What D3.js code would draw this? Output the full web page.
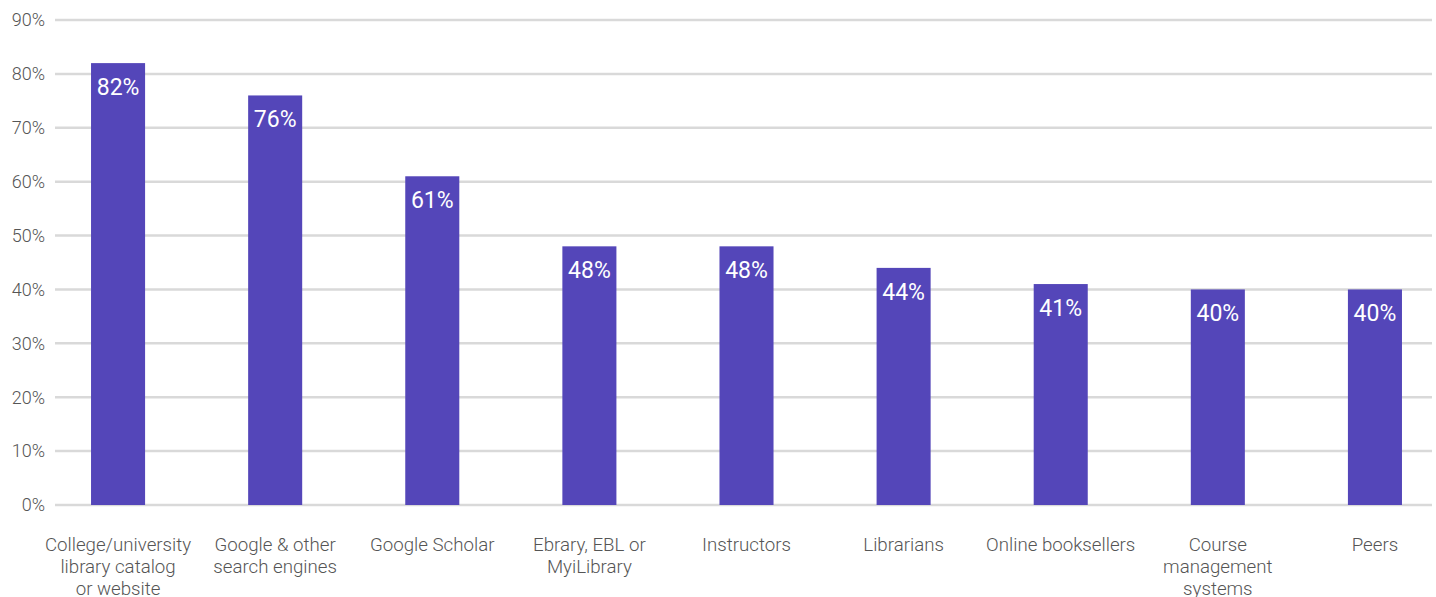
<!DOCTYPE html>
<html>
<head>
<meta charset="utf-8">
<script src="https://cdn.jsdelivr.net/npm/d3@7"></script>
<style>
  html, body { margin: 0; padding: 0; background: #fff; }
  svg { display: block; }
</style>
</head>
<body>
<svg id="chart" width="1436" height="597"></svg>
<script>
// Sources used to find e-books (share of respondents)
const categories = [
  ["College/university", "library catalog", "or website"],
  ["Google & other", "search engines"],
  ["Google Scholar"],
  ["Ebrary, EBL or", "MyiLibrary"],
  ["Instructors"],
  ["Librarians"],
  ["Online booksellers"],
  ["Course", "management", "systems"],
  ["Peers"]
];
const values = [82, 76, 61, 48, 48, 44, 41, 40, 40];
const yTicks = [0, 10, 20, 30, 40, 50, 60, 70, 80, 90];

const svg = d3.select("#chart");
const font = "Roboto, 'Noto Sans', sans-serif";

const x = d3.scaleBand()
  .domain(d3.range(values.length))
  .range([39.5, 1453.5])
  .paddingInner(0.656)
  .paddingOuter(0.328);

const y = d3.scaleLinear().domain([0, 90]).range([505, 20]);

// horizontal gridlines
svg.append("g").selectAll("line")
  .data(yTicks)
  .join("line")
  .attr("x1", 55).attr("x2", 1432)
  .attr("y1", d => y(d)).attr("y2", d => y(d))
  .attr("stroke", "#d9d9d9")
  .attr("stroke-width", 2.5);

// y tick labels
svg.append("g").selectAll("text")
  .data(yTicks)
  .join("text")
  .attr("x", 45)
  .attr("y", d => y(d))
  .attr("dy", "0.35em")
  .attr("text-anchor", "end")
  .attr("font-family", font)
  .attr("font-weight", 300)
  .attr("font-size", 18)
  .attr("fill", "#555")
  .text(d => d + "%");

// bars
svg.append("g").selectAll("rect")
  .data(values)
  .join("rect")
  .attr("x", (d, i) => x(i))
  .attr("y", d => y(d))
  .attr("width", x.bandwidth())
  .attr("height", d => y(0) - y(d))
  .attr("fill", "#5446b9");

// value labels inside bar tops
svg.append("g").selectAll("text")
  .data(values)
  .join("text")
  .attr("x", (d, i) => x(i) + x.bandwidth() / 2)
  .attr("y", d => y(d) + 32)
  .attr("text-anchor", "middle")
  .attr("font-family", font)
  .attr("font-weight", 400)
  .attr("font-size", 23)
  .attr("fill", "#fff")
  .text(d => d + "%");

// category labels
const cat = svg.append("g").selectAll("text")
  .data(categories)
  .join("text")
  .attr("x", (d, i) => x(i) + x.bandwidth() / 2)
  .attr("y", 550.5)
  .attr("text-anchor", "middle")
  .attr("font-family", font)
  .attr("font-weight", 300)
  .attr("font-size", 18.7)
  .attr("fill", "#555");

cat.selectAll("tspan")
  .data(d => d)
  .join("tspan")
  .attr("x", function () { return this.parentNode.getAttribute("x"); })
  .attr("dy", (d, j) => j === 0 ? 0 : 22)
  .text(d => d);
</script>
</body>
</html>
